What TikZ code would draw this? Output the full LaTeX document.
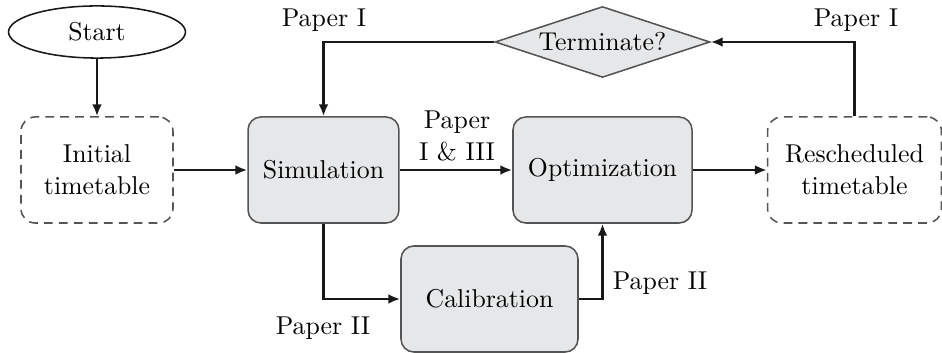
\documentclass[tikz,border=0pt]{standalone}
\usetikzlibrary{shapes.geometric,arrows.meta}
\definecolor{boxfill}{RGB}{230,231,232}
\definecolor{edgegray}{RGB}{85,85,85}
\definecolor{linecol}{RGB}{25,25,25}
\begin{document}
\begin{tikzpicture}[x=0.3876pt,y=-0.3876pt,
  font=\fontsize{10pt}{12.4pt}\selectfont,
  procbox/.style={draw=edgegray,fill=boxfill,rounded corners=5pt,line width=0.6pt,
    minimum height=41.1pt,align=center,inner sep=0pt},
  databox/.style={draw=edgegray,dashed,dash pattern=on 3.4pt off 2.4pt,rounded corners=5.5pt,line width=0.6pt,
    minimum height=41.1pt,align=center,inner sep=0pt},
  flow/.style={draw=linecol,line width=1.1pt,-{Latex[length=4.6pt,width=3.8pt]}},
  lbl/.style={align=center,inner sep=0pt}]
\useasboundingbox (0,0) rectangle (942,353);
\node[draw=linecol,ellipse,line width=0.6pt,minimum width=68.6pt,minimum height=20.2pt,inner sep=0pt] (start) at (97,32) {Start};
\node[databox,minimum width=58.9pt] (init) at (97,170) {Initial\\timetable};
\node[procbox,minimum width=58.5pt] (sim) at (323.5,170) {Simulation};
\node[procbox,minimum width=69.4pt] (opt) at (602.5,170) {Optimization};
\node[databox,minimum width=67.4pt] (resch) at (854.5,170) {Rescheduled\\timetable};
\node[procbox,minimum width=68.6pt] (calib) at (489.5,299) {Calibration};
\node[draw=edgegray,fill=boxfill,diamond,aspect=3,line width=0.6pt,minimum width=83.3pt,minimum height=27.5pt,inner sep=0pt] (term) at (602.5,42) {Terminate?};
\node[lbl] (l1) at (324,20) {Paper I};
\node[lbl] (l2) at (856,20) {Paper I};
\node[lbl] (l3) at (457,136) {Paper\\I \& III};
\node[lbl] (l4) at (323,328) {Paper II};
\node[lbl] (l5) at (660,283) {Paper II};
\draw[flow] (start.south) -- (init.north);
\draw[flow] (init.east) -- (sim.west);
\draw[flow] (sim.east) -- (opt.west);
\draw[flow] (opt.east) -- (resch.west);
\draw[flow] (resch.north) |- (term.east);
\draw[flow] (term.west) -| (sim.north);
\draw[flow] (sim.south) |- (calib.west);
\draw[flow] (calib.east) -| (opt.south);
\end{tikzpicture}
\end{document}
